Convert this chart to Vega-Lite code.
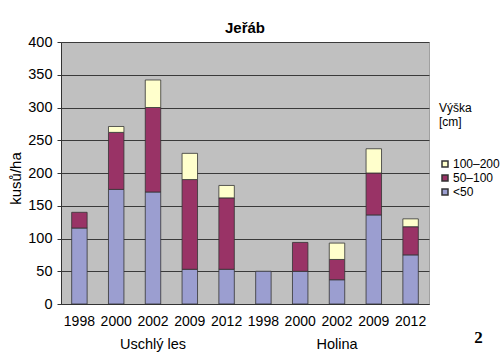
{
  "$schema": "https://vega.github.io/schema/vega-lite/v6.json",
  "width": 368,
  "height": 262,
  "autosize": {"type": "none"},
  "padding": {"left": 61, "top": 42, "right": 71, "bottom": 60},
  "background": "white",
  "title": {"text": "Jeřáb", "fontSize": 15, "fontWeight": "bold", "anchor": "middle", "frame": "group", "offset": -2, "color": "#000"},
  "datasets": {
    "bars": [
      {"rok": "1998", "vyska": "<50", "ord": 1, "pocet": 116},
      {"rok": "1998", "vyska": "50–100", "ord": 2, "pocet": 24},
      {"rok": "2000", "vyska": "<50", "ord": 1, "pocet": 175},
      {"rok": "2000", "vyska": "50–100", "ord": 2, "pocet": 87},
      {"rok": "2000", "vyska": "100–200", "ord": 3, "pocet": 9},
      {"rok": "2002", "vyska": "<50", "ord": 1, "pocet": 171},
      {"rok": "2002", "vyska": "50–100", "ord": 2, "pocet": 129},
      {"rok": "2002", "vyska": "100–200", "ord": 3, "pocet": 42},
      {"rok": "2009", "vyska": "<50", "ord": 1, "pocet": 53},
      {"rok": "2009", "vyska": "50–100", "ord": 2, "pocet": 137},
      {"rok": "2009", "vyska": "100–200", "ord": 3, "pocet": 40},
      {"rok": "2012", "vyska": "<50", "ord": 1, "pocet": 53},
      {"rok": "2012", "vyska": "50–100", "ord": 2, "pocet": 109},
      {"rok": "2012", "vyska": "100–200", "ord": 3, "pocet": 19},
      {"rok": "1998 ", "vyska": "<50", "ord": 1, "pocet": 50},
      {"rok": "2000 ", "vyska": "<50", "ord": 1, "pocet": 50},
      {"rok": "2000 ", "vyska": "50–100", "ord": 2, "pocet": 44},
      {"rok": "2002 ", "vyska": "<50", "ord": 1, "pocet": 37},
      {"rok": "2002 ", "vyska": "50–100", "ord": 2, "pocet": 31},
      {"rok": "2002 ", "vyska": "100–200", "ord": 3, "pocet": 25},
      {"rok": "2009 ", "vyska": "<50", "ord": 1, "pocet": 136},
      {"rok": "2009 ", "vyska": "50–100", "ord": 2, "pocet": 64},
      {"rok": "2009 ", "vyska": "100–200", "ord": 3, "pocet": 37},
      {"rok": "2012 ", "vyska": "<50", "ord": 1, "pocet": 75},
      {"rok": "2012 ", "vyska": "50–100", "ord": 2, "pocet": 43},
      {"rok": "2012 ", "vyska": "100–200", "ord": 3, "pocet": 12}
    ],
    "groups": [{"skupina": "Uschlý les"}, {"skupina": "Holina"}]
  },
  "layer": [
    {
      "data": {"name": "bars"},
      "mark": {"type": "bar", "stroke": "#333", "strokeWidth": 0.8},
      "encoding": {
        "x": {
          "field": "rok", "type": "nominal", "sort": null,
          "scale": {"paddingInner": 0.58, "paddingOuter": 0.29},
          "axis": {
            "orient": "bottom", "title": null,
            "labelAngle": 0, "labelFontSize": 14, "labelColor": "#000", "labelPadding": 10,
            "ticks": false, "domainColor": "#333"
          }
        },
        "y": {
          "field": "pocet", "type": "quantitative",
          "scale": {"domain": [0, 400], "nice": false},
          "axis": {
            "values": [0, 50, 100, 150, 200, 250, 300, 350, 400],
            "title": "kusů/ha", "titleFontSize": 15, "titleFontWeight": "normal", "titleColor": "#000",
            "titleY": 136,
            "labelFontSize": 14.5, "labelColor": "#000", "labelPadding": 5,
            "tickSize": 4, "tickColor": "#333", "domainColor": "#333",
            "gridColor": "#3a3a3a", "gridWidth": 1
          }
        },
        "color": {
          "field": "vyska", "type": "nominal",
          "scale": {"domain": ["100–200", "50–100", "<50"], "range": ["#ffffcc", "#993366", "#9b9ed0"]},
          "legend": {
            "orient": "none", "legendX": 378, "legendY": 61,
            "title": ["Výška", "[cm]"], "titleFontSize": 12, "titleFontWeight": "normal", "titleColor": "#000",
            "titlePadding": 29,
            "labelFontSize": 12, "labelColor": "#000", "labelOffset": 2,
            "symbolType": "square", "symbolSize": 36, "symbolStrokeColor": "#333"
          }
        },
        "order": {"field": "ord", "type": "quantitative"}
      }
    },
    {
      "data": {"name": "groups"},
      "mark": {"type": "bar", "opacity": 0},
      "encoding": {
        "x": {
          "field": "skupina", "type": "nominal", "sort": null,
          "scale": {"paddingInner": 0, "paddingOuter": 0},
          "axis": {
            "orient": "bottom", "domain": false, "ticks": false,
            "labelAngle": 0, "labelFontSize": 14.5, "labelColor": "#000", "labelPadding": 33,
            "title": "2", "titleFont": "Liberation Serif", "titleFontSize": 17, "titleFontWeight": "bold",
            "titleColor": "#000", "titleX": 417, "titleY": 25
          }
        }
      }
    }
  ],
  "resolve": {"scale": {"x": "independent"}},
  "config": {
    "font": "Liberation Sans",
    "view": {"fill": "#c0c0c0", "stroke": "#a0a0a0"}
  }
}
